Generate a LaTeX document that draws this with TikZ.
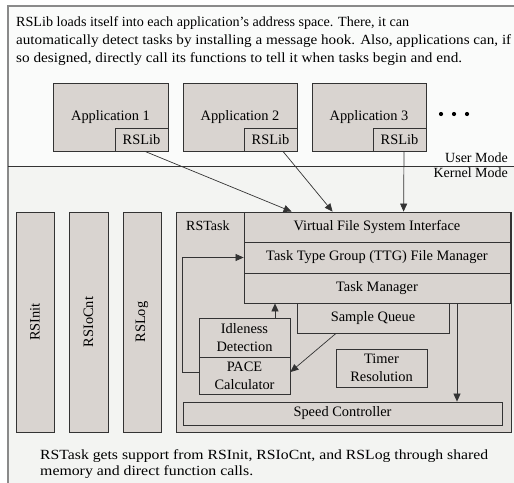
\documentclass[tikz,border=0pt]{standalone}
\usepackage{fontspec}
\setmainfont{Liberation Serif}
\usetikzlibrary{arrows.meta,calc}
\definecolor{boxc}{HTML}{D9D4D0}
\definecolor{topbg}{HTML}{FAFBFA}
\definecolor{botbg}{HTML}{F3F4F2}
\definecolor{edge}{HTML}{333333}
\definecolor{outer}{HTML}{8A8A8A}
\newcommand\fitline[2]{\resizebox{#1}{\height}{#2}}
\begin{document}
\begin{tikzpicture}[x=1pt,y=-1pt,
  box/.style={draw=edge, fill=boxc, line width=0.8pt, inner sep=0pt, font=\fontsize{14.4}{18}\selectfont, align=center},
  txt/.style={inner sep=0pt, font=\fontsize{14}{18}\selectfont},
  arr/.style={draw=edge, line width=0.7pt, -{Triangle[length=8pt,width=7pt]}}]
\useasboundingbox (0,0) rectangle (514,482);
% background panels
\fill[topbg] (8,6) rectangle (530,166);
\fill[botbg] (8,166) rectangle (530,500);
\draw[outer, line width=1.4pt] (530,6) -- (8,6) -- (8,500);
\draw[edge, line width=0.9pt] (8,166) -- (530,166);
% top text
\node[txt, anchor=base west] (t1) at (16,26.7) {\fitline{393pt}{RSLib loads itself into each application’s address space. There, it can}};
\node[txt, anchor=base west] (t2) at (16,44.3) {\fitline{495pt}{automatically detect tasks by installing a message hook. Also, applications can, if}};
\node[txt, anchor=base west] (t3) at (16,62) {\fitline{446pt}{so designed, directly call its functions to tell it when tasks begin and end.}};
% applications
\node[box, minimum width=115pt, minimum height=68pt] (app1) at (110.5,117) {Application 1};
\node[box, minimum width=53pt, minimum height=23pt] (lib1) at (141.5,139.5) {RSLib};
\node[box, minimum width=114pt, minimum height=68pt] (app2) at (240,117) {Application 2};
\node[box, minimum width=53pt, minimum height=23pt] (lib2) at (270.5,139.5) {RSLib};
\node[box, minimum width=114pt, minimum height=68pt] (app3) at (369,117) {Application 3};
\node[box, minimum width=53pt, minimum height=23pt] (lib3) at (399.5,139.5) {RSLib};
\foreach \i/\xx in {1/441,2/454,3/467} \fill[black] (\xx,114) circle (2.1pt);
% mode labels
\node[txt, anchor=base east] (um) at (508,162.5) {User Mode};
\node[txt, anchor=base east] (km) at (508,177.5) {Kernel Mode};
% support modules
\node[box, minimum width=38pt, minimum height=220pt] (rsinit) at (35,322) {\rotatebox{90}{RSInit}};
\node[box, minimum width=39pt, minimum height=220pt] (rsiocnt) at (88.5,322) {\rotatebox{90}{RSIoCnt}};
\node[box, minimum width=38pt, minimum height=220pt] (rslog) at (142,322) {\rotatebox{90}{RSLog}};
% RSTask
\node[box, minimum width=335pt, minimum height=220pt] (rstask) at (343.5,322) {};
\node[txt, anchor=base west] (rstl) at (186,230.5) {RSTask};
\node[box, minimum width=266pt, minimum height=30pt] (vfs) at (377,227) {Virtual File System Interface};
\node[box, minimum width=266pt, minimum height=31pt] (ttg) at (377,257.5) {Task Type Group (TTG) File Manager};
\node[box, minimum width=266pt, minimum height=30pt] (tm) at (377,288) {Task Manager};
\node[box, minimum width=152pt, minimum height=30pt] (sq) at (373,318) {Sample Queue};
\node[box, minimum width=91pt, minimum height=39pt] (idd) at (244.5,337.5) {Idleness\\Detection};
\node[box, minimum width=91pt, minimum height=37pt] (pace) at (244.5,375.5) {PACE\\Calculator};
\node[box, minimum width=91pt, minimum height=38pt] (tr) at (381.5,368) {Timer\\Resolution};
\node[box, minimum width=319pt, minimum height=23pt] (sc) at (342.5,413.5) {Speed Controller};
% arrows from RSLib
\draw[arr] ([xshift=3.5pt]lib1.south) -- ([xshift=48pt]vfs.north west);
\draw[arr] ([xshift=12.5pt]lib2.south) -- ([xshift=89pt]vfs.north west);
\draw[arr] ([xshift=4.5pt]lib3.south) -- ([xshift=160pt]vfs.north west);
% internal arrows
\draw[arr] ([xshift=30.5pt]idd.north) -- ([xshift=30.5pt]idd.north |- tm.south);
\draw[arr] ([yshift=3.5pt]pace.west) -- ++(-16,0) |- (ttg.west);
\draw[arr] ([xshift=-37pt]sq.south) -- ([yshift=3.5pt]pace.east);
\draw[arr] ([xshift=80pt]tm.south) -- ([xshift=80pt]tm.south |- sc.north);
% bottom text
\node[txt, anchor=base west] (b1) at (40,459.5) {\fitline{448pt}{RSTask gets support from RSInit, RSIoCnt, and RSLog through shared}};
\node[txt, anchor=base west] (b2) at (40,475) {\fitline{213pt}{memory and direct function calls.}};
\end{tikzpicture}
\end{document}
